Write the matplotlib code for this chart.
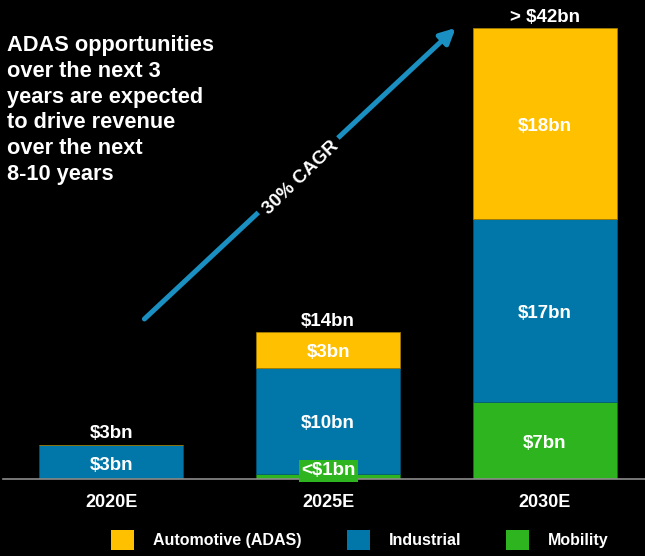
import matplotlib
matplotlib.use("Agg")
import matplotlib.pyplot as plt
from matplotlib.patches import Patch

plt.rcParams['font.family'] = ['Liberation Sans', 'DejaVu Sans']
plt.rcParams['font.weight'] = 'bold'

categories = ["2020E", "2025E", "2030E"]
series_names = ["Automotive (ADAS)", "Industrial", "Mobility"]
mobility = [0.08, 0.47, 7.2]
industrial = [3.05, 9.9, 17.0]
automotive = [0.07, 3.35, 17.8]
mobility_labels = ["", "<$1bn", "$7bn"]
industrial_labels = ["$3bn", "$10bn", "$17bn"]
automotive_labels = ["", "$3bn", "$18bn"]
total_labels = ["$3bn", "$14bn", "> $42bn"]
cagr_label = "30% CAGR"
note = "ADAS opportunities\nover the next 3\nyears are expected\nto drive revenue\nover the next\n8-10 years"

c_auto = "#FFC000"
c_ind = "#0077A8"
c_mob = "#2DB41E"
c_arrow = "#1A90C2"

fig = plt.figure(figsize=(6.45, 5.56), dpi=100, facecolor="black")
ax = fig.add_axes([0.005, 1 - 479 / 556, 0.995, 479 / 556])
ax.set_facecolor("black")

x = list(range(len(categories)))
w = 0.664
bottom2 = [m + i for m, i in zip(mobility, industrial)]
ax.bar(x, mobility, w, color=c_mob, edgecolor="#1f7a14", linewidth=0.4)
ax.bar(x, industrial, w, bottom=mobility, color=c_ind, edgecolor="#005a80", linewidth=0.4)
ax.bar(x, automotive, w, bottom=bottom2, color=c_auto, edgecolor="#a07a00", linewidth=0.6)

ax.set_xlim(-0.498, 2.461)
ax.set_ylim(0, 44.6)
for s in ["top", "right", "left"]:
    ax.spines[s].set_visible(False)
ax.spines["bottom"].set_color("#8c8c8c")
ax.spines["bottom"].set_linewidth(1.2)
ax.set_yticks([])
ax.set_xticks(x)
ax.set_xticklabels(categories, color="white", fontsize=13, fontweight="bold")
ax.tick_params(axis="x", length=0, pad=11)

lab_kw = dict(color="white", fontsize=13.5, fontweight="bold", ha="center", va="center")
dy = -0.25
for i in x:
    tot = mobility[i] + industrial[i] + automotive[i]
    ax.text(i, (mobility[i] + industrial[i] / 2 if i != 0 else 1.5) + dy,
            industrial_labels[i], **lab_kw)
    if automotive_labels[i]:
        ax.text(i, bottom2[i] + automotive[i] / 2 + dy, automotive_labels[i], **lab_kw)
    if i == 2:
        ax.text(i, mobility[i] / 2 + dy, mobility_labels[i], **lab_kw)
    elif mobility_labels[i]:
        ax.text(i, 0.75, mobility_labels[i],
                bbox=dict(boxstyle="square,pad=0.12", fc=c_mob, ec="none"), **lab_kw)
    ax.text(i, tot + 0.2, total_labels[i], color="white", fontsize=13.5,
            fontweight="bold", ha="center", va="bottom")

# CAGR arrow
ax.annotate("", xy=(1.588, 42.0), xytext=(0.153, 14.9),
            arrowprops=dict(arrowstyle="-|>,head_length=0.9,head_width=0.45",
                            color=c_arrow, lw=3.6, shrinkA=0, shrinkB=0))
ax.text(0.875, 28.0, cagr_label, color="white", fontsize=13.5, fontweight="bold",
        rotation=44, ha="center", va="center", rotation_mode="anchor",
        bbox=dict(boxstyle="square,pad=0.3", fc="black", ec="none"))

fig.text(7 / 645, 1 - 35 / 556, note, color="white", fontsize=15.7, fontweight="bold",
         ha="left", va="top", linespacing=1.3)

handles = [Patch(facecolor=c_auto, edgecolor="none"),
           Patch(facecolor=c_ind, edgecolor="none"),
           Patch(facecolor=c_mob, edgecolor="none")]
leg = fig.legend(handles, series_names, loc="center", ncol=3,
                 bbox_to_anchor=(360 / 645, 1 - 540 / 556), frameon=False,
                 fontsize=11.5, handlelength=1.44, handleheight=1.5,
                 handletextpad=1.19, columnspacing=2.8)
for t in leg.get_texts():
    t.set_color("white")
    t.set_fontweight("bold")

fig.savefig("out.png", dpi=100, facecolor="black")
